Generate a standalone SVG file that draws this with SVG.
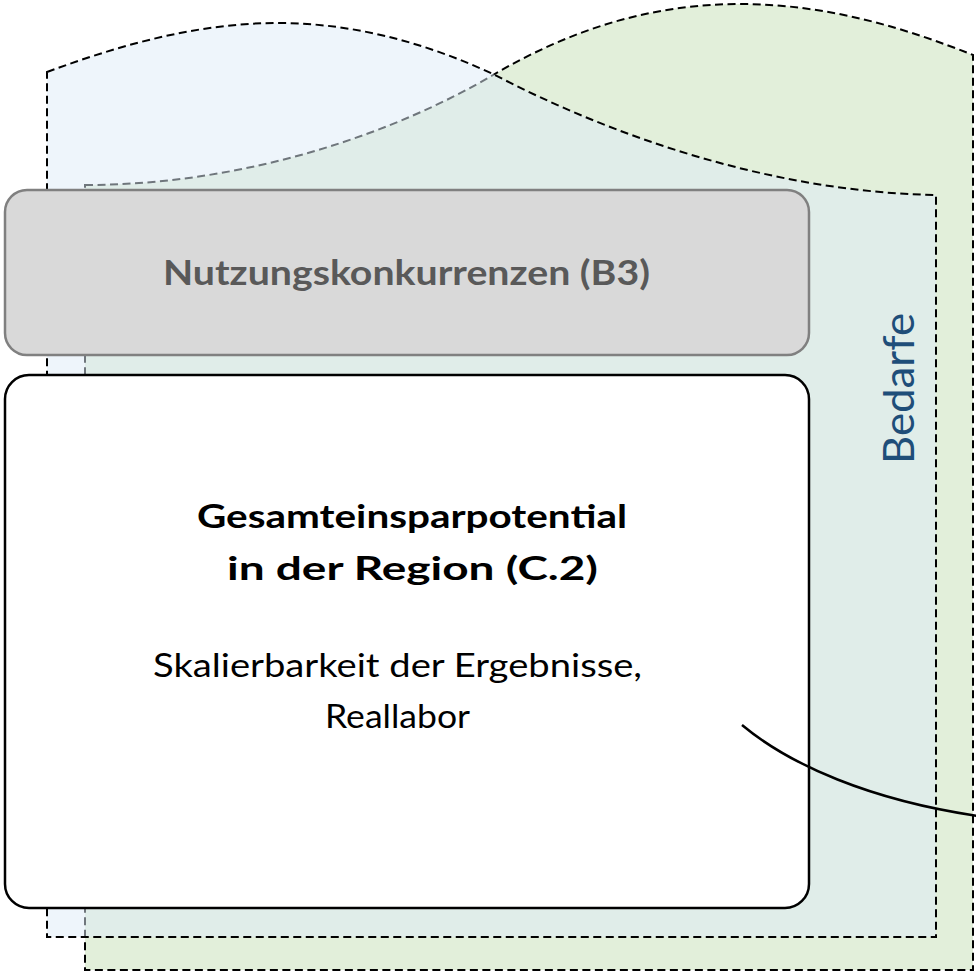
<svg xmlns="http://www.w3.org/2000/svg" width="976" height="972" viewBox="0 0 976 972">
  <style>
    .area { stroke: #000000; stroke-width: 2; stroke-dasharray: 8 4.5; }
    .lato { font-family: Lato, "Liberation Sans", Arial, sans-serif; }
    .bold { font-weight: 700; }
  </style>
  <rect x="0" y="0" width="976" height="972" fill="#FFFFFF"/>
  <g id="area-green">
    <path class="area" fill="#E2EFDA" d="M85,185 C250,185 400,130 493,75 C570,30 650,4 740,4 C830,4 910,30 973,55 L973,970 L85,970 Z"/>
  </g>
  <g id="area-blue">
    <path class="area" fill="#DEEBF7" fill-opacity="0.5" d="M47,72 C120,45 200,22 283,23 C360,24 430,45 493,74 C610,135 770,192 936,195 L936,937 L47,937 Z"/>
  </g>
  <g id="label-bedarfe">
    <text class="lato" transform="translate(914,388.5) rotate(-90)" text-anchor="middle" font-size="43" fill="#1F4E79" textLength="151" lengthAdjust="spacingAndGlyphs">Bedarfe</text>
  </g>
  <g id="node-nutzungskonkurrenzen">
    <rect x="5" y="190" width="804" height="165" rx="22" ry="22" fill="#D9D9D9" stroke="#808080" stroke-width="2.5"/>
    <text class="lato bold" x="406.5" y="285" text-anchor="middle" font-size="35" fill="#595959" textLength="487" lengthAdjust="spacingAndGlyphs">Nutzungskonkurrenzen (B3)</text>
  </g>
  <g id="node-gesamteinsparpotential">
    <rect x="5" y="375" width="804" height="533" rx="24" ry="24" fill="#FFFFFF" stroke="#000000" stroke-width="2.5"/>
    <text class="lato bold" x="412" y="528" text-anchor="middle" font-size="33" fill="#000000" textLength="430" lengthAdjust="spacingAndGlyphs">Gesamteinsparpotential</text>
    <text class="lato bold" x="412.5" y="580" text-anchor="middle" font-size="33" fill="#000000" textLength="371" lengthAdjust="spacingAndGlyphs">in der Region (C.2)</text>
    <text class="lato" x="397.5" y="677" text-anchor="middle" font-size="32.5" fill="#000000" textLength="489" lengthAdjust="spacingAndGlyphs">Skalierbarkeit der Ergebnisse,</text>
    <text class="lato" x="397.5" y="728" text-anchor="middle" font-size="32.5" fill="#000000" textLength="145" lengthAdjust="spacingAndGlyphs">Reallabor</text>
  </g>
  <g id="connectors">
    <path d="M742,725 C790,765 870,800 978,816" fill="none" stroke="#000000" stroke-width="2.5"/>
  </g>
</svg>
